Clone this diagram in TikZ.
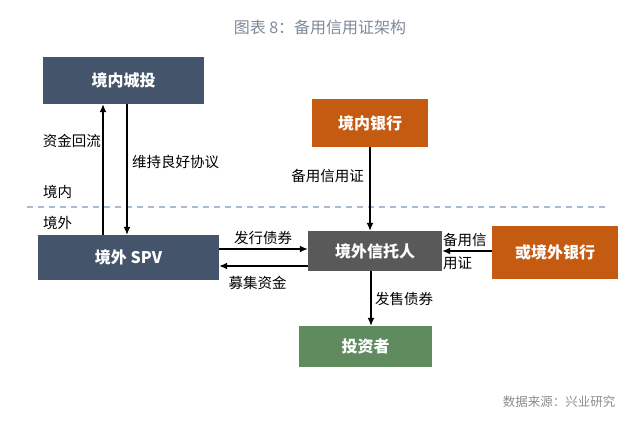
\documentclass[tikz,border=0pt]{standalone}
\usepackage{fontspec}
\setmainfont{Noto Sans CJK SC}
\usetikzlibrary{arrows.meta}
\definecolor{slate}{HTML}{44546A}
\definecolor{rust}{HTML}{C55A11}
\definecolor{trustgray}{HTML}{595959}
\definecolor{sage}{HTML}{5F8B5F}
\definecolor{titleblue}{HTML}{7D8A99}
\definecolor{borderline}{HTML}{A9BCCF}
\definecolor{sourcegray}{HTML}{8C8C8C}

\begin{document}
\begin{tikzpicture}[x=1pt,y=-1pt,
  box/.style={inner sep=0pt,text=white,font=\bfseries\fontsize{16}{16}\selectfont},
  flow/.style={line width=1.3pt,-{Latex[length=8pt,width=7pt]}},
  lbl/.style={inner sep=0pt,font=\fontsize{14.5}{23}\selectfont}]
  \useasboundingbox (0,0) rectangle (640,436);
  \node[text=titleblue,font=\fontsize{16}{16}\selectfont] (title) at (320,27) {图表 8：备用信用证架构};
  % boxes
  \node[box,fill=slate,minimum width=161pt,minimum height=47pt] (chengtou) at (123.5,80.5) {境内城投};
  \node[box,fill=rust,minimum width=116pt,minimum height=48pt] (dnbank) at (370,123) {境内银行};
  \node[box,fill=slate,minimum width=181pt,minimum height=45pt] (spv) at (128.5,257.5) {境外 SPV};
  \node[box,fill=trustgray,minimum width=134pt,minimum height=40pt] (trustee) at (375,251) {境外信托人};
  \node[box,fill=rust,minimum width=126pt,minimum height=53pt] (wbank) at (555,252.5) {或境外银行};
  \node[box,fill=sage,minimum width=133pt,minimum height=41pt] (investor) at (365.5,346.5) {投资者};
  % border
  \draw[borderline,line width=1.2pt,dash pattern=on 6pt off 5pt] (27,207) -- (605,207);
  \node[lbl,anchor=west] (jingnei) at (43,192) {境内};
  \node[lbl,anchor=west] (jingwai) at (43,223) {境外};
  % flows
  \draw[flow] ([xshift=-25.5pt]spv.north) -- ([xshift=-25.5pt]spv.north |- chengtou.south);
  \draw[flow] ([xshift=3.5pt]chengtou.south) -- ([xshift=3.5pt]chengtou.south |- spv.north);
  \draw[flow] (dnbank.south) -- (dnbank.south |- trustee.north);
  \draw[flow] ([yshift=8.5pt]spv.east) -- ([yshift=8.5pt]spv.east -| trustee.west);
  \draw[flow] ([yshift=-8.5pt]spv.east -| trustee.west) -- ([yshift=-8.5pt]spv.east);
  \draw[flow] (wbank.west |- trustee.east) -- (trustee.east);
  \draw[flow] ([xshift=-4pt]trustee.south) -- ([xshift=-4pt]trustee.south |- investor.north);
  % labels
  \node[lbl,anchor=east] (huiliu) at (101,141) {资金回流};
  \node[lbl,anchor=west] (xieyi) at (132,162) {维持良好协议};
  \node[lbl,anchor=east] (sblc) at (364,176) {备用信用证};
  \node[lbl] (faxing) at (263,238) {发行债券};
  \node[lbl] (muji) at (257.5,283) {募集资金};
  \node[lbl,anchor=west,align=left] (sblcw) at (443,251.5) {备用信\\用证};
  \node[lbl,anchor=west] (fashou) at (375,299) {发售债券};
  \node[anchor=east,text=sourcegray,font=\fontsize{12.5}{12.5}\selectfont] (source) at (619,402) {数据来源：兴业研究};
\end{tikzpicture}
\end{document}
